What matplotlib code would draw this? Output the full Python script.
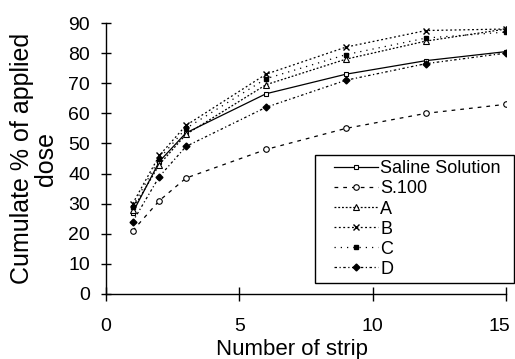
import matplotlib
matplotlib.use("Agg")
import matplotlib.pyplot as plt
from matplotlib.legend_handler import HandlerLine2D
from matplotlib.transforms import ScaledTranslation

strips = [1, 2, 3, 6, 9, 12, 15]
saline = [27, 44, 53.5, 66.5, 73, 77.5, 80.5]
s100 = [21, 31, 38.5, 48, 55, 60, 63]
form_a = [28, 43, 53, 69.5, 78, 84, 88]
form_b = [30, 46, 56, 73, 82, 87.5, 88]
form_c = [29, 45, 55, 71.5, 79.5, 85, 87]
form_d = [24, 39, 49, 62, 71, 76.5, 80]

x_ticks = [0, 5, 10, 15]
y_ticks = [0, 10, 20, 30, 40, 50, 60, 70, 80, 90]

plt.rcParams['font.family'] = ['Liberation Sans', 'DejaVu Sans']


class ShiftedLineHandler(HandlerLine2D):
    def get_xdata(self, legend, xdescent, ydescent, width, height, fontsize):
        x0 = -xdescent + 0.75 * fontsize
        x1 = -xdescent + 3.2 * fontsize
        return [x0, x1], [0.5 * (x0 + x1)]


fig = plt.figure(figsize=(5.15, 3.59), dpi=100)
ax = fig.add_axes([106/515, 65/359, 400/515, 271/359])

lw = 0.9
ax.plot(strips, saline, color='black', lw=lw, ls='-', marker='s', ms=3.5,
        mfc='white', mec='black', mew=0.8, label='Saline Solution')
ax.plot(strips, s100, color='black', lw=lw, ls=(0, (3, 4)), marker='o', ms=4,
        mfc='white', mec='black', mew=0.8, label='S.100')
ax.plot(strips, form_a, color='black', lw=lw, ls=(0, (1.5, 1.5)), marker='^', ms=4.5,
        mfc='white', mec='black', mew=0.8, label='A')
ax.plot(strips, form_b, color='black', lw=lw, ls=(0, (1.5, 2)), marker='x', ms=5,
        mec='black', mew=1.0, label='B')
ax.plot(strips, form_c, color='black', lw=lw, ls=(0, (1, 4)), marker='s', ms=3,
        mfc='black', mec='black', label='C')
ax.plot(strips, form_d, color='black', lw=lw, ls=(0, (2, 2, 1, 2)), marker='D', ms=3.5,
        mfc='black', mec='black', label='D')

ax.set_xlim(0, 15)
ax.set_ylim(0, 90)
ax.set_xticks(x_ticks)
ax.set_yticks(y_ticks)
for s in ['top', 'right']:
    ax.spines[s].set_visible(False)
for s in ['left', 'bottom']:
    ax.spines[s].set_linewidth(1.0)
ax.tick_params(axis='x', direction='inout', length=10, width=1.0, labelsize=14, pad=12)
ax.tick_params(axis='y', direction='inout', length=7, width=1.0, labelsize=14, pad=8)

# nudge the last x tick label so it stays inside the figure
last_label = ax.get_xticklabels()[-1]
last_label.set_transform(last_label.get_transform() +
                         ScaledTranslation(-7/100, 0, fig.dpi_scale_trans))

ax.set_xlabel('Number of strip', fontsize=16, va='center')
ax.xaxis.set_label_coords(0.464, -0.205)
ax.set_ylabel('Cumulate % of applied\ndose', fontsize=18, va='center', linespacing=1.0)
ax.yaxis.set_label_coords(-0.181, 0.5)

top = (359 - 155) / 359
leg = ax.legend(loc='upper left',
                bbox_to_anchor=(315/515, top - 0.4, 199/515, 0.4),
                bbox_transform=fig.transFigure, mode='expand', fontsize=13,
                frameon=True, fancybox=False, edgecolor='black', framealpha=1,
                labelspacing=0.17, handlelength=3.2, handletextpad=0.1,
                borderpad=0.3, borderaxespad=0,
                handler_map={matplotlib.lines.Line2D: ShiftedLineHandler()})
leg.get_frame().set_linewidth(1.0)

fig.savefig('out.png', dpi=100)
